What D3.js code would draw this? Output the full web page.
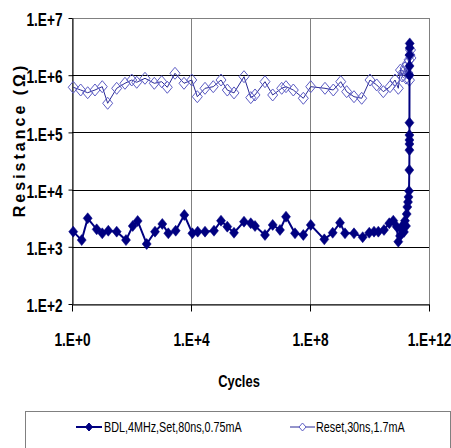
<!DOCTYPE html>
<html>
<head>
<meta charset="utf-8">
<script src="https://cdn.jsdelivr.net/npm/d3@7"></script>
<style>
  body { margin: 0; background: #fff; }
  svg { display: block; }
  text { font-family: "Liberation Sans", Arial, sans-serif; }
</style>
</head>
<body>
<svg id="chart" width="451" height="448"></svg>
<script>
// Endurance test: resistance after set / reset pulses vs. number of cycles
const xTicks = [1, 1e4, 1e8, 1e12];
const yTicks = [1e2, 1e3, 1e4, 1e5, 1e6, 1e7];
const seriesNames = ["BDL,4MHz,Set,80ns,0.75mA", "Reset,30ns,1.7mA"];

const setCycles = [
  1.1, 2.12, 3.37, 6.76, 10.4, 16.6, 31.8, 65.3, 110, 161,
  324, 617, 1085, 1725, 3060, 5960, 1.11e4, 1.68e4, 2.96e4, 5.93e4,
  1.02e5, 1.66e5, 2.79e5, 6.05e5, 1.02e6, 1.42e6, 3.07e6, 5.57e6, 9.8e6, 1.56e7,
  3.13e7, 5.96e7, 1.06e8, 3.03e8, 5.79e8, 1.02e9, 1.5e9, 3.01e9, 5.9e9, 9.8e9,
  1.42e10, 1.98e10, 3.07e10, 4.62e10, 6.3e10, 8.2e10, 9.3e10,
  1.06e11, 1.21e11, 1.34e11, 1.44e11, 1.56e11, 1.69e11, 1.78e11, 1.87e11, 1.97e11, 2.05e11,
  2.13e11, 2.18e11, 2.2e11, 2.2e11, 2.2e11, 2.2e11, 2.2e11, 2.21e11, 2.22e11, 2.23e11,
  2.24e11, 2.25e11
];
const setResistance = [
  1.84e3, 1.31e3, 3.15e3, 2.02e3, 1.72e3, 1.91e3, 1.84e3, 1.31e3, 2.31e3, 2.83e3,
  1.12e3, 1.84e3, 2.51e3, 1.72e3, 1.91e3, 3.6e3, 1.72e3, 1.84e3, 1.84e3, 1.91e3,
  2.86e3, 2.25e3, 1.76e3, 2.75e3, 2.58e3, 2.31e3, 1.61e3, 2.41e3, 1.97e3, 3.36e3,
  1.72e3, 1.61e3, 2.41e3, 1.35e3, 1.76e3, 2.64e3, 1.72e3, 1.72e3, 1.47e3, 1.76e3,
  1.84e3, 1.84e3, 1.97e3, 2.58e3, 2.86e3, 2.25e3, 1.23e3,
  1.55e3, 1.97e3, 2.41e3, 1.82e3, 2.86e3, 2.31e3, 3.74e3, 4.97e3, 6.07e3, 7.43e3,
  9.46e3, 2.2e4, 4.9e4, 6.27e4, 7.36e4, 9.0e4, 1.48e5, 1.0e6, 1.45e6, 2.25e6,
  3.0e6, 3.6e6
];

const resetCycles = [
  1.1, 1.96, 3.37, 5.92, 10.4, 15.8, 31.8, 60.3, 102, 150,
  284, 584, 1035, 1596, 2897, 5818, 1.06e4, 1.63e4, 2.96e4, 5.6e4,
  1.02e5, 1.66e5, 2.79e5, 6.05e5, 1.02e6, 1.42e6, 3.07e6, 5.57e6, 1.12e7, 1.56e7,
  2.75e7, 5.96e7, 1.06e8, 3.19e8, 6.07e8, 1.08e9, 1.71e9, 3.01e9, 5.47e9, 1.04e10,
  1.75e10, 2.91e10, 4.89e10, 7.2e10, 9.3e10,
  1.1e11, 1.24e11, 1.39e11, 1.56e11, 1.69e11, 1.82e11, 1.97e11, 2.13e11, 2.21e11, 2.3e11,
  2.39e11, 2.48e11
];
const resetResistance = [
  6.15e5, 5.51e5, 4.94e5, 5.51e5, 6.3e5, 3.23e5, 5.9e5, 7.22e5, 8.24e5, 7.52e5,
  8.83e5, 7.22e5, 7.7e5, 6.15e5, 1.08e6, 7.22e5, 8.24e5, 4.21e5, 5.9e5, 6.3e5,
  8.24e5, 5.5e5, 4.9e5, 9.42e5, 4.05e5, 4.51e5, 7.7e5, 4.51e5, 5.9e5, 6.3e5,
  5.51e5, 3.95e5, 6.3e5, 5.9e5, 5.51e5, 7.7e5, 5.15e5, 4.21e5, 3.95e5, 8.24e5,
  6.75e5, 5.15e5, 6.3e5, 8.24e5, 5.9e5,
  1.23e6, 9.7e5, 1.14e6, 1.34e6, 8.9e5, 1.57e6, 1.09e6, 1.85e6, 8.2e5, 2.25e6,
  2.76e6, 2.0e6
];

const svg = d3.select("#chart");
const plot = { left: 72, right: 429, top: 18, bottom: 304 };

const x = d3.scaleLog().domain([1, 1e12]).range([plot.left, plot.right]);
const y = d3.scaleLog().domain([1e2, 1e7]).range([plot.bottom, plot.top]);
const fmt = d => "1.E+" + Math.round(Math.log10(d));

const navy = "#000080";
const resetLine = "#2a2a96";
const resetMark = "#5c5cc4";

// diamond marker path with half-width w and half-height h
const diamond = (w, h) => `M0,${-h}L${w},0L0,${h}L${-w},0Z`;

// plot-area frame (grey)
svg.append("rect")
  .attr("x", plot.left + 0.5).attr("y", plot.top + 0.5)
  .attr("width", plot.right - plot.left).attr("height", plot.bottom - plot.top)
  .attr("fill", "#fff").attr("stroke", "#808080").attr("stroke-width", 1);

// vertical grid lines (grey)
svg.append("g").selectAll("line")
  .data(xTicks.filter(t => t > 1 && t < 1e12))
  .join("line")
  .attr("x1", d => Math.round(x(d)) + 0.5).attr("x2", d => Math.round(x(d)) + 0.5)
  .attr("y1", plot.top).attr("y2", plot.bottom)
  .attr("stroke", "#808080").attr("stroke-width", 1);

// horizontal grid lines (black)
svg.append("g").selectAll("line")
  .data(yTicks.filter(t => t > 1e2 && t < 1e7))
  .join("line")
  .attr("x1", plot.left).attr("x2", plot.right)
  .attr("y1", d => Math.round(y(d)) + 0.5).attr("y2", d => Math.round(y(d)) + 0.5)
  .attr("stroke", "#000").attr("stroke-width", 1);

// axes
const xAxis = svg.append("g")
  .attr("transform", `translate(0,${plot.bottom + 0.5})`)
  .call(d3.axisBottom(x).tickValues(xTicks).tickFormat(fmt).tickSizeInner(7).tickSizeOuter(0));
const yAxis = svg.append("g")
  .attr("transform", `translate(${plot.left + 0.5},0)`)
  .call(d3.axisLeft(y).tickValues(yTicks).tickFormat(fmt).tickSizeInner(4).tickSizeOuter(0));

[xAxis, yAxis].forEach(g => {
  g.select(".domain").attr("stroke", "#000").attr("stroke-width", 1);
  g.selectAll(".tick line").attr("stroke", "#000");
});

xAxis.selectAll(".tick text")
  .attr("x", 0).attr("y", 0).attr("dy", null)
  .attr("transform", "translate(0,41) scale(0.72,1)")
  .attr("font-size", 19).attr("font-weight", "bold").attr("fill", "#000")
  .attr("text-anchor", "middle");
yAxis.selectAll(".tick text")
  .attr("x", 0).attr("dy", "0.35em")
  .attr("transform", "translate(-10,1) scale(0.72,1)")
  .attr("font-size", 19).attr("font-weight", "bold").attr("fill", "#000")
  .attr("text-anchor", "end");

// axis titles
svg.append("text")
  .attr("transform", "translate(239,387) scale(0.76,1)")
  .attr("text-anchor", "middle").attr("font-size", 17).attr("font-weight", "bold")
  .text("Cycles");
svg.append("text")
  .attr("transform", "translate(25,140) rotate(-90)")
  .attr("text-anchor", "middle").attr("font-size", 16).attr("font-weight", "bold")
  .attr("letter-spacing", 3)
  .text("Resistance (\u03A9)");

// series data
const setData = setCycles.map((c, i) => ({ c, r: setResistance[i] }));
const resetData = resetCycles.map((c, i) => ({ c, r: resetResistance[i] }));
const line = d3.line().x(d => x(d.c)).y(d => y(d.r));

// reset series: thin line, open diamonds
svg.append("path").datum(resetData)
  .attr("d", line).attr("fill", "none").attr("stroke", resetLine).attr("stroke-width", 1);
svg.append("g").selectAll("path").data(resetData).join("path")
  .attr("transform", d => `translate(${x(d.c)},${y(d.r)})`)
  .attr("d", diamond(5, 6))
  .attr("fill", "none").attr("stroke", resetMark).attr("stroke-width", 1);

// set series: bold line, filled diamonds
svg.append("path").datum(setData)
  .attr("d", line).attr("fill", "none").attr("stroke", navy).attr("stroke-width", 2);
svg.append("g").selectAll("path").data(setData).join("path")
  .attr("transform", d => `translate(${x(d.c)},${y(d.r)})`)
  .attr("d", diamond(4.5, 5.5))
  .attr("fill", navy).attr("stroke", navy).attr("stroke-width", 0.5);

// legend
const legend = svg.append("g");
legend.append("rect")
  .attr("x", 25.5).attr("y", 411.5).attr("width", 425).attr("height", 60)
  .attr("fill", "#fff").attr("stroke", "#808080").attr("stroke-width", 1);

const legendItems = [
  { name: seriesNames[0], x0: 76, x1: 102, text: 104, stroke: navy, sw: 2, fill: navy, mstroke: navy },
  { name: seriesNames[1], x0: 290, x1: 315, text: 316, stroke: resetLine, sw: 1, fill: "#fff", mstroke: resetMark }
];
const ly = 427;
legendItems.forEach(it => {
  legend.append("line")
    .attr("x1", it.x0).attr("x2", it.x1).attr("y1", ly).attr("y2", ly)
    .attr("stroke", it.stroke).attr("stroke-width", it.sw);
  legend.append("path")
    .attr("transform", `translate(${(it.x0 + it.x1) / 2},${ly})`)
    .attr("d", diamond(3.5, 4))
    .attr("fill", it.fill).attr("stroke", it.mstroke).attr("stroke-width", 1);
  legend.append("text")
    .attr("transform", `translate(${it.text},${ly + 5}) scale(0.77,1)`)
    .attr("font-size", 14).attr("fill", "#000")
    .text(it.name);
});
</script>
</body>
</html>
